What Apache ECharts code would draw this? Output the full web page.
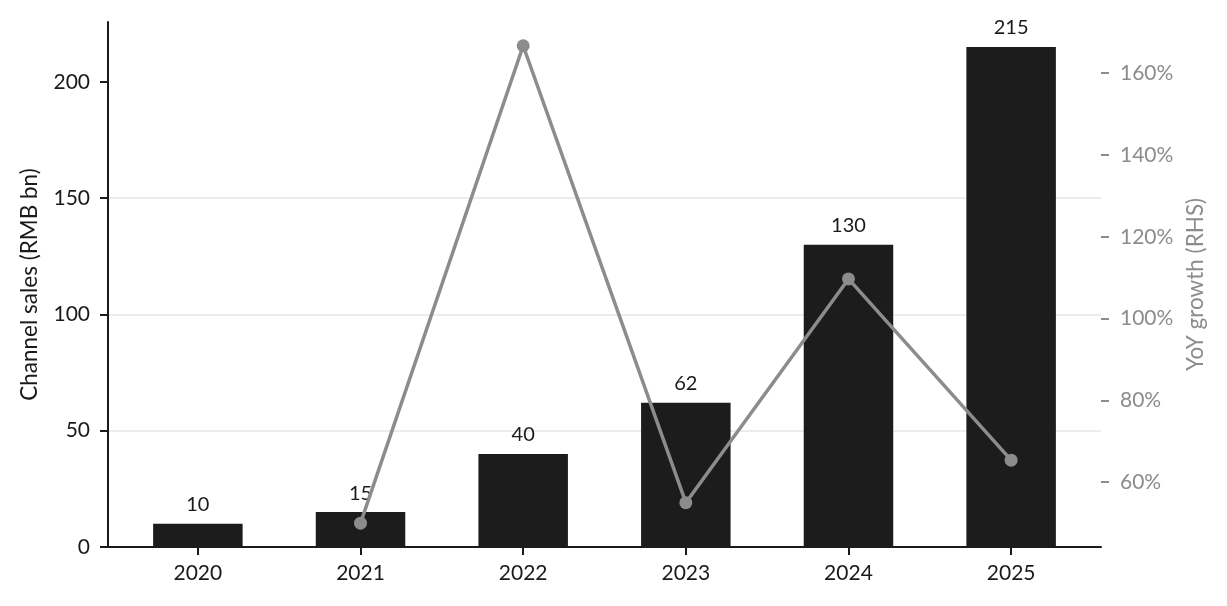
<!DOCTYPE html>
<html>
<head>
    <meta charset="utf-8">
    <title>Channel sales and YoY growth</title>
    <script src="https://cdn.jsdelivr.net/npm/echarts@6.0.0/dist/echarts.min.js"></script>
    <style>
        html, body { margin: 0; padding: 0; background: #fff; }
        #chart { width: 1227px; height: 606px; }
    </style>
</head>
<body>
<div id="chart"></div>
<script>
    // data
    var years = ['2020', '2021', '2022', '2023', '2024', '2025'];
    var sales = [10, 15, 40, 62, 130, 215];          // RMB bn
    var growthYears = ['2021', '2022', '2023', '2024', '2025'];
    var growth = [50, 166.7, 55, 109.7, 65.4];       // YoY %
    var leftTicks = [0, 50, 100, 150, 200];
    var rightTicks = [60, 80, 100, 120, 140, 160];

    var font = 'Lato, "Noto Sans", sans-serif';
    var chart = echarts.init(document.getElementById('chart'), null, { renderer: 'canvas' });

    var barData = sales.map(function (v, i) { return [i, v]; });
    var lineData = growth.map(function (v, i) { return [years.indexOf(growthYears[i]), v]; });
    var yearPos = years.map(function (y, i) { return i; });

    var option = {
        animation: false,
        backgroundColor: '#fff',
        grid: { left: 108, right: 126, top: 22, bottom: 59 },
        xAxis: {
            type: 'value',
            min: -0.5525,
            max: 5.5525,
            axisLine: { show: true, onZero: false, lineStyle: { color: '#1a1a1a', width: 2 } },
            axisTick: { show: true, customValues: yearPos, length: 8, lineStyle: { color: '#1a1a1a', width: 2 } },
            axisLabel: {
                customValues: yearPos,
                formatter: function (v) { return years[Math.round(v)]; },
                color: '#1a1a1a', fontSize: 21, fontFamily: font, margin: 16
            },
            splitLine: { show: false }
        },
        yAxis: [{
            type: 'value',
            min: 0,
            max: 225.75,
            interval: 50,
            name: 'Channel sales (RMB bn)',
            nameLocation: 'middle',
            nameGap: 67,
            nameTextStyle: { color: '#1a1a1a', fontSize: 22.5, fontFamily: font },
            axisLine: { show: true, onZero: false, lineStyle: { color: '#1a1a1a', width: 2 } },
            axisTick: { show: true, customValues: leftTicks, length: 8, lineStyle: { color: '#1a1a1a', width: 2 } },
            axisLabel: { customValues: leftTicks, color: '#1a1a1a', fontSize: 21, fontFamily: font, margin: 18 },
            splitLine: { show: true, showMinLine: false, showMaxLine: false, lineStyle: { color: '#e6e6e6', width: 1.5 } }
        }, {
            type: 'value',
            min: 44.17,
            max: 172.5,
            position: 'right',
            name: 'YoY growth (RHS)',
            nameLocation: 'middle',
            nameGap: 82,
            nameRotate: 90,
            nameTextStyle: { color: '#8c8c8c', fontSize: 22.5, fontFamily: font },
            axisLine: { show: false, onZero: false },
            axisTick: { show: true, customValues: rightTicks, length: 8, lineStyle: { color: '#8c8c8c', width: 2 } },
            axisLabel: {
                customValues: rightTicks,
                formatter: '{value}%',
                color: '#8c8c8c', fontSize: 21, fontFamily: font, margin: 19
            },
            splitLine: { show: false }
        }],
        series: [{
            name: 'Channel sales',
            type: 'bar',
            xAxisIndex: 0,
            yAxisIndex: 0,
            data: barData,
            barWidth: 89.5,
            itemStyle: { color: '#1c1c1c' },
            label: {
                show: true,
                position: 'top',
                distance: 9,
                formatter: function (p) { return p.value[1]; },
                color: '#1a1a1a', fontSize: 20, fontFamily: font
            },
            z: 2
        }, {
            name: 'YoY growth',
            type: 'line',
            xAxisIndex: 0,
            yAxisIndex: 1,
            data: lineData,
            symbol: 'circle',
            symbolSize: 13,
            lineStyle: { color: '#8c8c8c', width: 3.5 },
            itemStyle: { color: '#8c8c8c' },
            z: 3
        }]
    };

    chart.setOption(option);
</script>
</body>
</html>
